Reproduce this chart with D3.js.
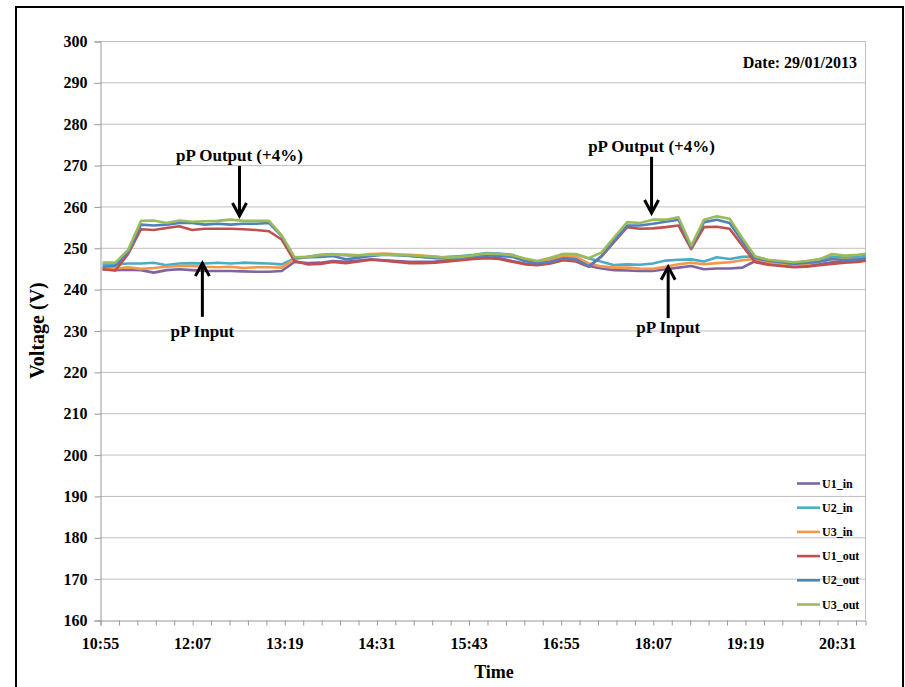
<!DOCTYPE html>
<html><head><meta charset="utf-8">
<script src="https://cdn.jsdelivr.net/npm/d3@7"></script>
<style>
body{margin:0;background:#fff}
svg{display:block}
text{font-family:"Liberation Serif","Times New Roman",Times,serif;font-weight:bold;fill:#000}
</style>
</head><body>
<svg id="chart" width="905" height="687"></svg>
<script>
// ---- data ----
const times = ["10:57","11:07","11:17","11:27","11:37","11:47","11:57","12:07","12:17","12:27","12:37","12:47","12:57","13:07","13:17","13:27","13:37","13:47","13:57","14:07","14:17","14:27","14:37","14:47","14:57","15:07","15:17","15:27","15:37","15:47","15:57","16:07","16:17","16:27","16:37","16:47","16:57","17:07","17:17","17:27","17:37","17:47","17:57","18:07","18:17","18:27","18:37","18:47","18:57","19:07","19:17","19:27","19:37","19:47","19:57","20:07","20:17","20:27","20:37","20:47","20:57"];

const U1_in  = [244.8,244.6,244.7,244.6,244.0,244.6,244.8,244.6,244.4,244.4,244.4,244.3,244.2,244.2,244.4,246.6,246.3,246.4,246.8,246.6,246.9,247.2,247.0,246.8,246.6,246.6,246.7,247.0,247.2,247.5,247.7,247.5,246.8,246.2,246.0,246.4,247.6,247.3,245.6,245.0,244.6,244.5,244.4,244.4,244.8,245.2,245.6,244.8,245.0,245.0,245.2,246.8,246.2,245.8,245.4,245.6,246.0,246.5,246.6,246.8,247.2];
const U2_in  = [246.0,246.0,246.2,246.2,246.4,245.8,246.2,246.3,246.2,246.4,246.2,246.4,246.3,246.2,246.0,247.4,247.8,248.3,248.5,248.2,248.0,248.3,248.4,248.3,248.1,247.8,247.6,247.8,248.0,248.3,248.7,248.6,248.3,247.2,246.6,247.3,248.5,248.4,247.4,246.6,245.8,246.0,245.9,246.2,246.9,247.1,247.2,246.7,247.7,247.3,247.8,247.9,247.0,246.6,246.2,246.6,247.2,247.9,247.6,247.8,248.1];
const U3_in  = [245.0,245.0,245.3,244.9,245.1,245.4,245.6,245.6,245.4,245.3,245.4,245.1,245.3,245.3,245.2,247.3,247.7,248.0,248.2,248.3,248.2,248.5,248.6,248.4,248.3,248.1,247.9,247.6,247.5,248.0,248.4,248.3,248.0,247.2,246.5,247.0,248.0,247.8,246.2,245.5,245.2,245.2,245.0,244.9,245.4,246.0,246.4,246.0,246.3,246.5,247.0,247.3,246.6,246.2,245.9,246.1,246.6,247.3,247.1,247.3,247.6];
const U1_out = [244.8,244.5,248.5,254.5,254.3,254.8,255.2,254.3,254.6,254.6,254.6,254.5,254.3,254.0,252.0,246.8,246.0,246.1,246.6,246.3,246.7,247.1,246.9,246.6,246.3,246.3,246.4,246.7,247.0,247.3,247.5,247.3,246.6,246.0,245.8,246.2,247.0,246.7,245.4,247.9,251.5,255.0,254.6,254.7,255.0,255.4,249.7,255.0,255.1,254.6,250.5,246.5,245.9,245.6,245.3,245.4,245.8,246.1,246.4,246.6,247.0];
const U2_out = [245.4,245.6,249.0,255.6,255.4,255.6,256.0,256.0,255.6,255.8,255.6,255.8,255.8,256.0,252.8,247.6,247.7,247.8,248.0,247.2,247.6,248.0,248.3,248.2,248.0,247.8,247.5,247.4,247.6,248.0,248.2,248.0,247.8,246.8,246.2,246.6,247.5,247.2,245.5,248.1,251.8,255.4,255.4,255.8,256.3,256.8,250.1,256.2,256.8,256.0,251.5,247.5,246.9,246.5,246.1,246.4,246.6,247.3,247.0,247.2,247.5];
const U3_out = [246.4,246.4,249.5,256.5,256.6,256.0,256.6,256.3,256.4,256.5,256.8,256.5,256.5,256.5,253.0,247.7,247.8,248.2,248.4,248.3,248.2,248.3,248.4,248.2,248.2,248.0,247.8,247.6,247.8,248.2,248.6,248.5,248.2,247.4,246.8,247.6,248.5,248.5,247.5,248.9,252.6,256.2,256.0,256.8,256.8,257.4,250.5,256.8,257.6,257.0,252.3,247.9,247.1,246.8,246.5,246.8,247.2,248.5,248.1,248.3,248.7];

const seriesNames  = ["U1_in","U2_in","U3_in","U1_out","U2_out","U3_out"];
const seriesColors = ["#8064A2","#4BACC6","#F79646","#C0504D","#4F81BD","#9BBB59"];
const seriesValues = [U1_in,U2_in,U3_in,U1_out,U2_out,U3_out];

const yTicks = [160,170,180,190,200,210,220,230,240,250,260,270,280,290,300];
const xTickLabels = ["10:55","12:07","13:19","14:31","15:43","16:55","18:07","19:19","20:31"];
const xMinorStep = 14.4; // minutes between tick marks
const xDomainEnd = "20:52.8";

const annotations = [
  {text:"pP Output (+4%)", time:"12:44", textV:271.0, fromV:269.8, toV:257.7},
  {text:"pP Input",        time:"12:15", textV:228.4, fromV:233.3, toV:246.3},
  {text:"pP Output (+4%)", time:"18:06", textV:273.2, fromV:272.0, toV:258.4},
  {text:"pP Input",        time:"18:19", textV:229.4, fromV:233.0, toV:245.4}
];
const dateLabel = "Date: 29/01/2013";

// ---- helpers ----
const toMin = s => { const [h,m] = s.split(":"); return +h*60 + parseFloat(m); };
const FONT = '"Liberation Serif","Times New Roman",Times,serif';

const svg = d3.select("#chart");
const L = 100, R = 865, T = 41, B = 620;

const x = d3.scaleLinear().domain([toMin(xTickLabels[0]), toMin(xDomainEnd)]).range([L, R]);
const y = d3.scaleLinear().domain([160, 300]).range([B, T]);

// outer frame
svg.append("rect").attr("x",16).attr("y",7).attr("width",887).attr("height",700)
  .attr("fill","none").attr("stroke","#000").attr("stroke-width",2);

// gridlines
svg.append("g").selectAll("line").data(yTicks.filter(d=>d>160)).join("line")
  .attr("x1",L).attr("x2",R).attr("y1",d=>y(d)+0.5).attr("y2",d=>y(d)+0.5)
  .attr("stroke","#bfbfbf").attr("stroke-width",1);
svg.append("line").attr("x1",R+0.5).attr("x2",R+0.5).attr("y1",T).attr("y2",B)
  .attr("stroke","#bfbfbf");

// y axis
const yAxis = d3.axisLeft(y).tickValues(yTicks).tickSize(6).tickPadding(7).tickFormat(d3.format("d"));
const gy = svg.append("g").attr("transform",`translate(${L+0.5},0.5)`).call(yAxis);
gy.attr("font-family",FONT);
gy.select(".domain").attr("stroke","#999");
gy.selectAll(".tick line").attr("stroke","#999");
gy.selectAll(".tick text").style("font-size","16px").style("font-family",FONT).style("font-weight","bold");

// x axis (minor ticks + labels)
const minorTicks = d3.range(toMin(xTickLabels[0]), toMin(xDomainEnd)+0.01, xMinorStep);
const xAxisMinor = d3.axisBottom(x).tickValues(minorTicks).tickSize(5).tickFormat("");
const gx = svg.append("g").attr("transform",`translate(0.5,${B+0.5})`).call(xAxisMinor);
gx.select(".domain").attr("stroke","#999");
gx.selectAll(".tick line").attr("stroke","#999");
const xAxisLab = d3.axisBottom(x).tickValues(xTickLabels.map(toMin)).tickSize(0).tickPadding(18)
  .tickFormat((d,i)=>xTickLabels[i]);
const gx2 = svg.append("g").attr("transform",`translate(0,${B})`).call(xAxisLab);
gx2.attr("font-family",FONT);
gx2.select(".domain").remove();
gx2.selectAll(".tick text").style("font-size","16px").style("font-family",FONT).style("font-weight","bold");

// axis titles
svg.append("text").attr("x",494).attr("y",678).attr("text-anchor","middle")
  .style("font-size","18px").text("Time");
svg.append("text").attr("transform",`translate(44,${(T+B)/2}) rotate(-90)`).attr("text-anchor","middle")
  .style("font-size","20px").text("Voltage (V)");

// date
svg.append("text").attr("x",857).attr("y",68).attr("text-anchor","end").style("font-size","16px").text(dateLabel);

// lines
svg.append("clipPath").attr("id","plotclip").append("rect").attr("x",L).attr("y",T).attr("width",R-L+1).attr("height",B-T);
const line = d3.line().x((d,i)=>x(toMin(times[i]))).y(d=>y(d));
const gl = svg.append("g").attr("clip-path","url(#plotclip)");
seriesValues.forEach((vals,k)=>{
  gl.append("path").datum(vals).attr("d",line).attr("fill","none")
    .attr("stroke",seriesColors[k]).attr("stroke-width",2.6).attr("stroke-linejoin","round");
});

// annotations
const ga = svg.append("g");
annotations.forEach(a=>{
  const ax = x(toMin(a.time));
  ga.append("text").attr("x",ax).attr("y",y(a.textV)).attr("text-anchor","middle").style("font-size","17px").text(a.text);
  const y0 = y(a.fromV), y1 = y(a.toV);
  const dir = y1 > y0 ? 1 : -1;
  ga.append("line").attr("x1",ax).attr("x2",ax).attr("y1",y0).attr("y2",y1-dir*1)
    .attr("stroke","#000").attr("stroke-width",3);
  ga.append("path").attr("d",`M${ax-7},${y1-dir*13}L${ax},${y1}L${ax+7},${y1-dir*13}`)
    .attr("fill","none").attr("stroke","#000").attr("stroke-width",3).attr("stroke-linejoin","miter");
});

// legend
const lg = svg.append("g");
seriesNames.forEach((n,k)=>{
  const yy = 483.5 + k*24.2;
  lg.append("line").attr("x1",797).attr("x2",820).attr("y1",yy).attr("y2",yy)
    .attr("stroke",seriesColors[k]).attr("stroke-width",2.6);
  lg.append("text").attr("x",822).attr("y",yy+4).style("font-size","12px").text(n);
});
</script>
</body></html>
